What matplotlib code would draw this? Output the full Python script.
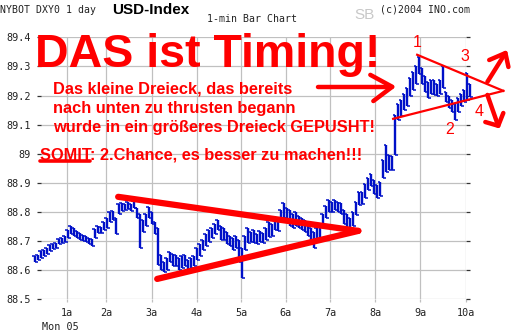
import numpy as np
import matplotlib.pyplot as plt

# 1-min bars, sampled (one entry every ~4 minutes): high / low of each bar
highs = [88.649, 88.652, 88.666, 88.669, 88.676, 88.687, 88.690, 88.694, 88.707, 88.711,
         88.718, 88.738, 88.752, 88.745, 88.735, 88.728, 88.721, 88.718, 88.711, 88.707,
         88.742, 88.752, 88.749, 88.766, 88.780, 88.800, 88.804, 88.780, 88.828, 88.831,
         88.828, 88.834, 88.828, 88.838, 88.814, 88.793, 88.773, 88.793, 88.817, 88.800,
         88.766, 88.745, 88.652, 88.628, 88.642, 88.663, 88.656, 88.652, 88.642, 88.649,
         88.652, 88.635, 88.642, 88.649, 88.676, 88.690, 88.704, 88.724, 88.738, 88.745,
         88.759, 88.773, 88.752, 88.745, 88.731, 88.718, 88.711, 88.718, 88.704, 88.676,
         88.718, 88.745, 88.731, 88.738, 88.724, 88.735, 88.728, 88.745, 88.766, 88.759,
         88.773, 88.769, 88.807, 88.831, 88.814, 88.807, 88.793, 88.800, 88.786, 88.780,
         88.773, 88.759, 88.745, 88.731, 88.745, 88.752, 88.793, 88.821, 88.841, 88.834,
         88.841, 88.834, 88.831, 88.807, 88.793, 88.780, 88.800, 88.834, 88.869, 88.869,
         88.896, 88.917, 88.931, 88.910, 88.893, 88.903, 88.979, 89.030, 88.996, 88.992,
         89.133, 89.171, 89.185, 89.206, 89.226, 89.261, 89.281, 89.302, 89.333, 89.295,
         89.267, 89.247, 89.254, 89.254, 89.240, 89.254, 89.302, 89.212, 89.199, 89.185,
         89.171, 89.192, 89.206, 89.219, 89.278, 89.240]
lows = [88.628, 88.635, 88.642, 88.649, 88.656, 88.666, 88.673, 88.676, 88.690, 88.694,
        88.697, 88.711, 88.724, 88.718, 88.711, 88.704, 88.700, 88.697, 88.690, 88.683,
        88.711, 88.728, 88.728, 88.738, 88.745, 88.766, 88.773, 88.724, 88.793, 88.804,
        88.807, 88.810, 88.804, 88.814, 88.780, 88.676, 88.731, 88.752, 88.780, 88.759,
        88.724, 88.618, 88.601, 88.594, 88.601, 88.628, 88.615, 88.615, 88.601, 88.608,
        88.615, 88.601, 88.608, 88.615, 88.635, 88.649, 88.669, 88.683, 88.697, 88.711,
        88.724, 88.738, 88.704, 88.704, 88.690, 88.683, 88.669, 88.676, 88.628, 88.573,
        88.669, 88.694, 88.697, 88.694, 88.690, 88.697, 88.694, 88.704, 88.714, 88.718,
        88.738, 88.735, 88.766, 88.780, 88.766, 88.752, 88.745, 88.752, 88.745, 88.738,
        88.731, 88.718, 88.704, 88.676, 88.697, 88.704, 88.745, 88.780, 88.800, 88.800,
        88.807, 88.800, 88.793, 88.759, 88.745, 88.738, 88.752, 88.790, 88.824, 88.828,
        88.848, 88.876, 88.889, 88.862, 88.848, 88.855, 88.917, 88.938, 88.944, 88.944,
        88.996, 89.116, 89.130, 89.151, 89.164, 89.199, 89.219, 89.240, 89.274, 89.240,
        89.212, 89.192, 89.206, 89.202, 89.199, 89.206, 89.226, 89.178, 89.157, 89.144,
        89.116, 89.144, 89.164, 89.178, 89.185, 89.195]

hour_ticks = [10.57, 23.67, 38.9, 53.9, 68.77, 83.57, 98.33, 113.33, 128.33, 143.57]
hour_labels = ['1a', '2a', '3a', '4a', '5a', '6a', '7a', '8a', '9a', '10a']
price_ticks = [88.5, 88.6, 88.7, 88.8, 88.9, 89.0, 89.1, 89.2, 89.3, 89.4]
price_labels = ['88.5', '88.6', '88.7', '88.8', '88.9', '89', '89.1', '89.2', '89.3', '89.4']

# hand drawn triangles (bar index, price)
big_tri_x = [27.7, 107.7, 40.7]
big_tri_y = [88.852, 88.735, 88.570]
small_tri_x = [127.3, 156.0, 119.3]
small_tri_y = [89.340, 89.216, 89.120]

RED = '#ff0000'
BLUE = '#0010c8'
MONO = 'DejaVu Sans Mono'
SANS = 'Liberation Sans'

fig = plt.figure(figsize=(5.12, 3.35), dpi=100)
ax = fig.add_axes([41 / 512, 1 - 299.3 / 335, 425 / 512, 262 / 335])

x = np.arange(len(highs))
ax.vlines(x, lows, highs, color=BLUE, lw=1.7, clip_on=False, zorder=3)
ax.hlines(highs, x - 0.9, x, color=BLUE, lw=1.1, clip_on=False, zorder=3)
ax.hlines(lows, x, x + 0.9, color=BLUE, lw=1.1, clip_on=False, zorder=3)

ax.set_xlim(2.0, 143.57)
ax.set_ylim(88.5, 89.4)
ax.set_xticks(hour_ticks)
ax.set_xticklabels(hour_labels, fontfamily=MONO, fontsize=7.3, color='#222222')
ax.set_yticks(price_ticks)
ax.set_yticklabels(price_labels, fontfamily=MONO, fontsize=7.3, color='#222222')
ax.grid(True, color='#c0c0c0', lw=0.9)
ax.set_axisbelow(True)
for s in ax.spines.values():
    s.set_visible(False)
ax.tick_params(axis='y', length=3, width=0.9, color='#333333', pad=4.5, right=True)
ax.tick_params(axis='x', length=2.5, width=0.9, color='#c0c0c0', pad=4)

# big triangle (thick)
ax.plot(big_tri_x[:2], big_tri_y[:2], color=RED, lw=4.5, solid_capstyle='round', clip_on=False, zorder=4)
ax.plot(big_tri_x[1:], big_tri_y[1:], color=RED, lw=4.5, solid_capstyle='round', clip_on=False, zorder=4)
# small triangle (thin)
ax.plot(small_tri_x[:2], small_tri_y[:2], color=RED, lw=1.6, clip_on=False, zorder=4)
ax.plot(small_tri_x[1:], small_tri_y[1:], color=RED, lw=1.6, clip_on=False, zorder=4)

# arrows drawn as strokes
strokes = [
    ([94.3, 119.0], [89.230, 89.230]),
    ([111.7, 119.0, 112.7], [89.271, 89.230, 89.181]),
    ([150.7, 156.7], [89.247, 89.346]),
    ([151.3, 156.7, 157.7], [89.322, 89.346, 89.298]),
    ([150.7, 154.3], [89.202, 89.096]),
    ([150.0, 154.3, 156.0], [89.109, 89.096, 89.140]),
]
for sx, sy in strokes:
    ax.plot(sx, sy, color=RED, lw=3.2, solid_capstyle='round', solid_joinstyle='round',
            clip_on=False, zorder=4)

for lab, lx, ly in [('1', 127.3, 89.381), ('3', 143.3, 89.333), ('2', 138.0, 89.082), ('4', 148.0, 89.144)]:
    ax.text(lx, ly, lab, color=RED, fontsize=11.5, fontfamily=SANS, ha='center', va='center', zorder=5)


def ftext(px, py, s, **kw):
    fig.text(px / 512, 1 - py / 335, s, **kw)


ftext(0, 10, 'NYBOT DXY0 1 day', fontfamily=MONO, fontsize=7.1, va='center', color='#222222')
ftext(151, 10, 'USD-Index', fontfamily=SANS, fontsize=11, fontweight='bold', ha='center', va='center')
ftext(207, 19.5, '1-min Bar Chart', fontfamily=MONO, fontsize=7.1, va='center', color='#222222')
ftext(364, 15, 'SB', fontfamily=SANS, fontsize=11, ha='center', va='center', color='#c8c8c8')
ftext(380, 10, '(c)2004 INO.com', fontfamily=MONO, fontsize=7.1, va='center', color='#222222')
ftext(42, 327, 'Mon 05', fontfamily=MONO, fontsize=7.3, va='center', color='#222222')

ftext(35, 67, 'DAS ist Timing!', fontfamily=SANS, fontsize=33.5, fontweight='bold', color=RED, va='baseline')
ftext(53, 93, 'Das kleine Dreieck, das bereits', fontfamily=SANS, fontsize=11.8, fontweight='bold', color=RED, va='baseline')
ftext(53, 113, 'nach unten zu thrusten begann', fontfamily=SANS, fontsize=11.8, fontweight='bold', color=RED, va='baseline')
ftext(53, 132, 'wurde in ein größeres Dreieck GEPUSHT!', fontfamily=SANS, fontsize=11.8, fontweight='bold', color=RED, va='baseline')
ftext(40, 159, 'SOMIT: 2.Chance, es besser zu machen!!!', fontfamily=SANS, fontsize=11.8, fontweight='bold', color=RED, va='baseline')
fig.add_artist(plt.Line2D([40 / 512, 90 / 512], [1 - 160.5 / 335, 1 - 160.5 / 335], color=RED, lw=2.6,
                          solid_capstyle='round'))

fig.savefig('out.png', dpi=100)
